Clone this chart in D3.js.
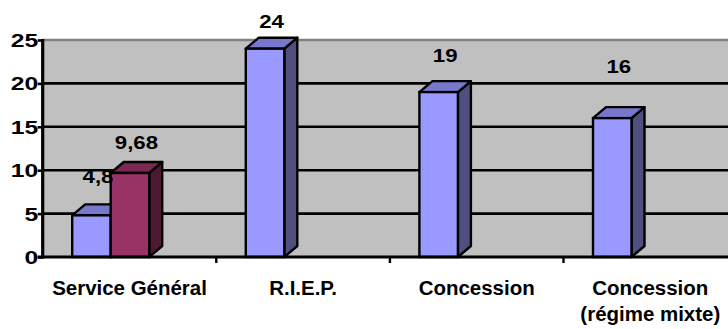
<!DOCTYPE html>
<html>
<head>
<meta charset="utf-8">
<script src="https://cdn.jsdelivr.net/npm/d3@7"></script>
<style>
  html, body { margin: 0; padding: 0; background: #fff; }
  svg { display: block; }
  text { font-family: "Liberation Sans", Arial, sans-serif; font-weight: bold; fill: #000; }
</style>
</head>
<body>
<svg id="chart" width="728" height="329"></svg>
<script>
// Categories and the two series of values
const categories = ["Service Général", "R.I.E.P.", "Concession", "Concession\n(régime mixte)"];
const seriesA = [4.8, 24, 19, 16];
const seriesB = [9.68, null, null, null];
const yTicks = [0, 5, 10, 15, 20, 25];

// Layout
const W = 728, H = 329;
const plot = { left: 42.7, top: 40, bottom: 257, bandW: 173.6 };
const barW = 38.5, groupOffset = 29.5;
const depth = { dx: 13, dy: 11 };
// how far each value label sits above the back edge of its bar top
const labelLiftA = [21, 9.5, 19.5, 34.5];
const labelLiftB = [13, 0, 0, 0];

const colors = {
  A: { front: "#9999ff", top: "#7777cc", side: "#4f4f80" },
  B: { front: "#993366", top: "#7a2952", side: "#4c1a33" }
};

const svg = d3.select("#chart");

const x0 = d3.scaleBand()
  .domain(categories)
  .range([plot.left, plot.left + plot.bandW * categories.length])
  .paddingInner(0).paddingOuter(0);

const x1 = d3.scaleBand()
  .domain(["A", "B"])
  .range([groupOffset, groupOffset + 2 * barW]);

const y = d3.scaleLinear().domain([0, 25]).range([plot.bottom, plot.top]);

// plot background
svg.append("rect")
  .attr("x", plot.left).attr("y", plot.top)
  .attr("width", W - plot.left).attr("height", plot.bottom - plot.top)
  .attr("fill", "#c0c0c0");

// horizontal gridlines
svg.append("g").selectAll("line")
  .data(yTicks.filter(t => t > 0 && t < 25))
  .join("line")
  .attr("x1", plot.left).attr("x2", W)
  .attr("y1", d => y(d)).attr("y2", d => y(d))
  .attr("stroke", "#000").attr("stroke-width", 2.6);

// top edge of the back wall
svg.append("line")
  .attr("x1", plot.left).attr("x2", W)
  .attr("y1", y(25)).attr("y2", y(25))
  .attr("stroke", "#808080").attr("stroke-width", 2.4);

// 3D columns: front, top and side faces
function drawBar(g, cx, v, col) {
  const x = cx, w = barW, yt = y(v), yb = y(0);
  const { dx, dy } = depth;
  const sw = 2.4;
  g.append("path")
    .attr("d", `M${x + w},${yb} L${x + w + dx},${yb - dy} L${x + w + dx},${yt - dy} L${x + w},${yt} Z`)
    .attr("fill", col.side).attr("stroke", "#000").attr("stroke-width", sw).attr("stroke-linejoin", "round");
  g.append("path")
    .attr("d", `M${x},${yt} L${x + dx},${yt - dy} L${x + w + dx},${yt - dy} L${x + w},${yt} Z`)
    .attr("fill", col.top).attr("stroke", "#000").attr("stroke-width", sw).attr("stroke-linejoin", "round");
  g.append("rect")
    .attr("x", x).attr("y", yt).attr("width", w).attr("height", yb - yt)
    .attr("fill", col.front).attr("stroke", "#000").attr("stroke-width", sw);
}

const bars = svg.append("g");
categories.forEach((c, i) => {
  if (seriesA[i] != null) drawBar(bars, x0(c) + x1("A"), seriesA[i], colors.A);
  if (seriesB[i] != null) drawBar(bars, x0(c) + x1("B"), seriesB[i], colors.B);
});

// value labels
const fmt = v => String(v).replace(".", ",");
const labels = svg.append("g");
function addLabel(cx, v, lift) {
  labels.append("text")
    .attr("transform", `translate(${cx + barW / 2 + depth.dx / 2},${y(v) - depth.dy - lift}) scale(1.2,1)`)
    .attr("text-anchor", "middle")
    .attr("font-size", 18.5)
    .text(fmt(v));
}
categories.forEach((c, i) => {
  if (seriesA[i] != null) addLabel(x0(c) + x1("A"), seriesA[i], labelLiftA[i]);
  if (seriesB[i] != null) addLabel(x0(c) + x1("B"), seriesB[i], labelLiftB[i]);
});

// value axis
const yAxis = svg.append("g")
  .attr("transform", `translate(${plot.left},0)`)
  .call(d3.axisLeft(y).tickValues(yTicks).tickSize(5).tickPadding(0).tickFormat(d3.format("d")));
yAxis.select(".domain").remove();
yAxis.selectAll(".tick line").attr("stroke", "#000").attr("stroke-width", 2.6);
yAxis.selectAll(".tick text").remove();
yAxis.selectAll(".tick").append("text")
  .attr("transform", "translate(-4.5,6.5) scale(1.3,1)")
  .attr("text-anchor", "end")
  .attr("font-size", 19)
  .attr("fill", "#000")
  .text(d => d);

svg.append("line")
  .attr("x1", plot.left).attr("x2", plot.left)
  .attr("y1", plot.top - 1).attr("y2", plot.bottom + 1.5)
  .attr("stroke", "#000").attr("stroke-width", 3.2);

// category axis
svg.append("line")
  .attr("x1", plot.left - 5).attr("x2", W)
  .attr("y1", plot.bottom).attr("y2", plot.bottom)
  .attr("stroke", "#000").attr("stroke-width", 3.2);

svg.append("g").selectAll("line")
  .data(categories.slice(1))
  .join("line")
  .attr("x1", d => x0(d)).attr("x2", d => x0(d))
  .attr("y1", plot.bottom).attr("y2", plot.bottom + 6)
  .attr("stroke", "#000").attr("stroke-width", 2.4);

const catLabels = svg.append("g");
categories.forEach(c => {
  const lines = c.split("\n");
  const t = catLabels.append("text")
    .attr("transform", `translate(${x0(c) + x0.bandwidth() / 2},295) scale(1.05,1)`)
    .attr("text-anchor", "middle")
    .attr("font-size", 19.5);
  lines.forEach((ln, k) => {
    t.append("tspan").attr("x", 0).attr("dy", k === 0 ? 0 : 26).text(ln);
  });
});
</script>
</body>
</html>
